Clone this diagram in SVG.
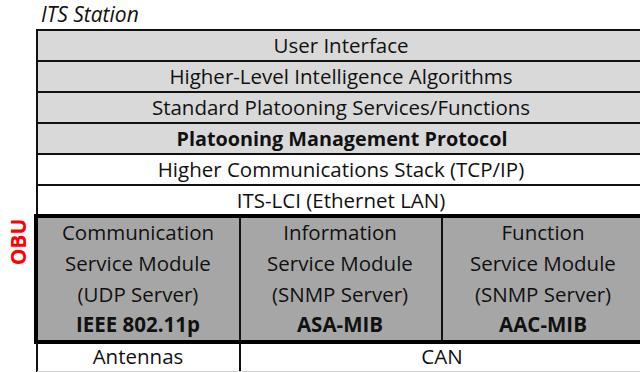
<svg xmlns="http://www.w3.org/2000/svg" width="640" height="372" viewBox="0 0 640 372">
  <style>
    .lbl { font-family: "Open Sans", "Liberation Sans", Arial, sans-serif; font-size: 20.5px; fill: #111; text-anchor: middle; }
    .b { font-weight: bold; }
    .light { fill: #d9d9d9; stroke: #111; stroke-width: 2; }
    .white { fill: #ffffff; stroke: #111; stroke-width: 2; }
    .mod { fill: #a6a6a6; stroke: #111; stroke-width: 2; }
  </style>
  <rect width="640" height="372" fill="#ffffff"/>

  <text x="41" y="21.5" style="font-family:'Open Sans','Liberation Sans',Arial,sans-serif;font-size:21px;font-style:italic;fill:#111">ITS Station</text>

  <!-- station layers -->
  <g id="user-interface">
    <rect class="light" x="37" y="30" width="610" height="31"/>
    <text class="lbl" x="341" y="53">User Interface</text>
  </g>
  <g id="intelligence">
    <rect class="light" x="37" y="61" width="610" height="31"/>
    <text class="lbl" x="341" y="84">Higher-Level Intelligence Algorithms</text>
  </g>
  <g id="platooning-services">
    <rect class="light" x="37" y="92" width="610" height="31"/>
    <text class="lbl" x="341" y="115">Standard Platooning Services/Functions</text>
  </g>
  <g id="platooning-protocol">
    <rect class="light" x="37" y="123" width="610" height="31"/>
    <text class="lbl b" x="342" y="146" style="font-size:19.8px">Platooning Management Protocol</text>
  </g>
  <g id="comm-stack">
    <rect class="white" x="37" y="154" width="610" height="31"/>
    <text class="lbl" x="341" y="177">Higher Communications Stack (TCP/IP)</text>
  </g>
  <g id="its-lci">
    <rect class="white" x="37" y="185" width="610" height="31"/>
    <text class="lbl" x="341" y="208">ITS-LCI (Ethernet LAN)</text>
  </g>

  <!-- OBU modules -->
  <g id="comm-module">
    <rect class="mod" x="37" y="216" width="203" height="126"/>
    <text class="lbl" x="138" y="240">Communication</text>
    <text class="lbl" x="138" y="271">Service Module</text>
    <text class="lbl" x="138" y="302">(UDP Server)</text>
    <text class="lbl b" x="138" y="332">IEEE 802.11p</text>
  </g>
  <g id="info-module">
    <rect class="mod" x="240" y="216" width="202" height="126"/>
    <text class="lbl" x="340" y="240">Information</text>
    <text class="lbl" x="340" y="271">Service Module</text>
    <text class="lbl" x="340" y="302">(SNMP Server)</text>
    <text class="lbl b" x="340" y="332">ASA-MIB</text>
  </g>
  <g id="function-module">
    <rect class="mod" x="442" y="216" width="205" height="126"/>
    <text class="lbl" x="543" y="240">Function</text>
    <text class="lbl" x="543" y="271">Service Module</text>
    <text class="lbl" x="543" y="302">(SNMP Server)</text>
    <text class="lbl b" x="543" y="332">AAC-MIB</text>
  </g>
  <g id="obu-frame">
    <rect x="36" y="216" width="612" height="126" fill="none" stroke="#000" stroke-width="4"/>
    <text x="26" y="242" transform="rotate(-90 26 242)" style="font-family:'Open Sans','Liberation Sans',Arial,sans-serif;font-size:21px;font-weight:bold;fill:#ff0000;text-anchor:middle">OBU</text>
  </g>

  <!-- interfaces below the OBU -->
  <g id="antennas">
    <line x1="37" y1="343" x2="37" y2="372" stroke="#111" stroke-width="2"/>
    <line x1="240" y1="343" x2="240" y2="372" stroke="#111" stroke-width="2"/>
    <line x1="37" y1="371.5" x2="640" y2="371.5" stroke="#d0d0d0" stroke-width="1"/>
    <text class="lbl" x="138" y="364">Antennas</text>
  </g>
  <g id="can">
    <text class="lbl" x="442" y="364">CAN</text>
  </g>
</svg>
